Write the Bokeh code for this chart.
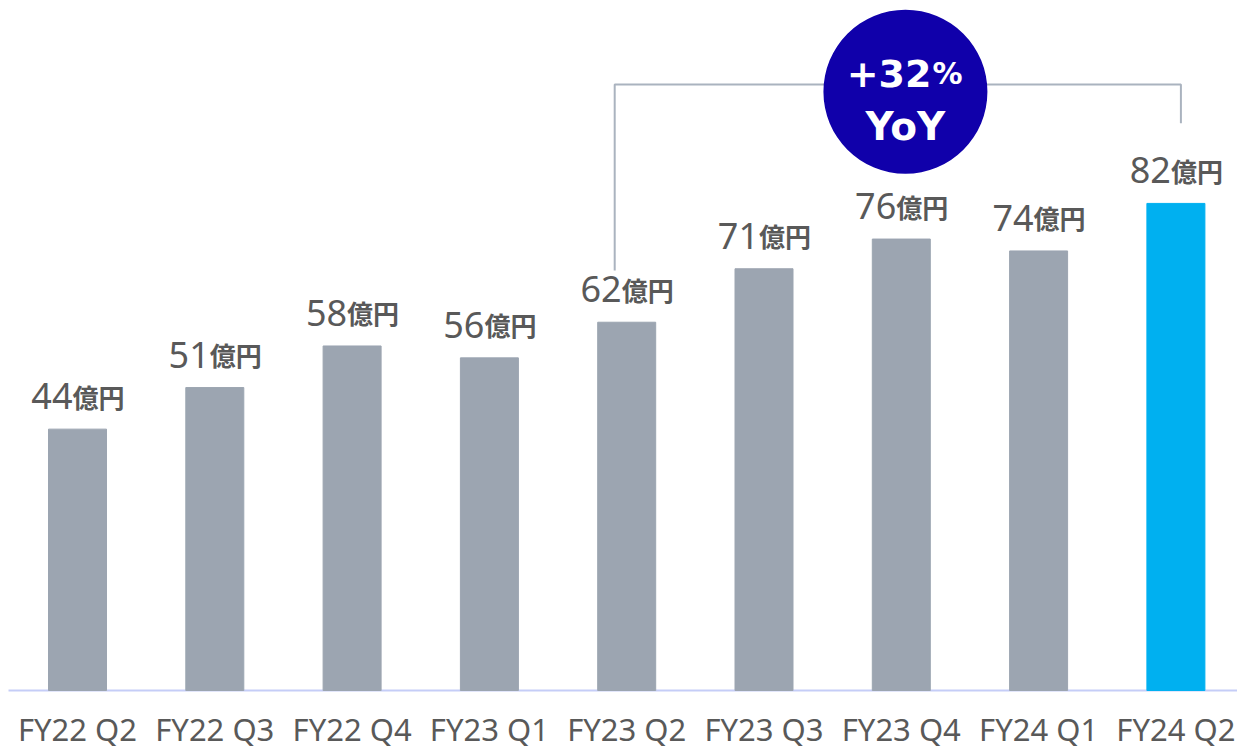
from bokeh.plotting import figure
from bokeh.models import Range1d, ColumnDataSource
from bokeh.core.properties import value
from bokeh.embed import file_html
from bokeh.resources import INLINE

categories = ["FY22 Q2", "FY22 Q3", "FY22 Q4", "FY23 Q1", "FY23 Q2",
              "FY23 Q3", "FY23 Q4", "FY24 Q1", "FY24 Q2"]
values = [44, 51, 58, 56, 62, 71, 76, 74, 82]
unit_label = "億円"
yoy_text = "+32"
yoy_pct = "%"
yoy_sub = "YoY"

GREY = "#9ca5b1"
HIGHLIGHT = "#00b0f0"
TEXT = "#595959"
BADGE = "#1000aa"
BRACKET = "#aab3bf"
BASELINE = "#c5cdf7"

xs = list(range(len(categories)))
colors = [GREY] * (len(values) - 1) + [HIGHLIGHT]

W, H = 1237, 752
PXU_X = 137.3          # pixels per category step
PXU_Y = 5.94           # pixels per value unit
X0 = -77 / PXU_X
X1 = X0 + W / PXU_X
Y1 = 690 / PXU_Y
Y0 = Y1 - H / PXU_Y
TB = 14                # text baseline compensation (px)


def dy(px):
    return px / PXU_Y


p = figure(width=W, height=H, output_backend="svg", toolbar_location=None,
           x_range=Range1d(X0, X1), y_range=Range1d(Y0, Y1),
           min_border=0, x_axis_type=None, y_axis_type=None)
p.outline_line_color = None
p.grid.visible = False
p.background_fill_color = "white"
p.border_fill_color = "white"

src = ColumnDataSource(dict(x=xs, top=values, color=colors,
                            num=[str(v) for v in values],
                            unit=[unit_label] * len(values),
                            cat=categories,
                            ly=[v + dy(19 + TB) for v in values],
                            cy=[-dy(52 - TB)] * len(values)))

# baseline
p.segment(x0=[X0 + 8 / PXU_X], y0=[0], x1=[X1], y1=[0],
          line_color=BASELINE, line_width=2)

p.vbar(x="x", top="top", bottom=0, width=58 / PXU_X, color="color", source=src)

# category labels
p.text(x="x", y="cy", text="cat", source=src, text_align="center",
       text_baseline="alphabetic", text_font=value("Noto Sans"),
       text_font_size="31px", text_color=TEXT)

# value labels
p.text(x="x", y="ly", text="num", source=src, x_offset=-5,
       text_align="right", text_baseline="alphabetic",
       text_font=value("Noto Sans"), text_font_size="36px", text_color=TEXT)
p.text(x="x", y="ly", text="unit", source=src, x_offset=-5,
       text_align="left", text_baseline="alphabetic",
       text_font=value("Noto Sans CJK JP"), text_font_style="bold",
       text_font_size="26px", text_color=TEXT)

# YoY bracket from FY23 Q2 to FY24 Q2
i0, i1 = 4, 8
bx0 = i0 - 12 / PXU_X
bx1 = i1 + 5 / PXU_X
b_top = 102.0
p.line([bx0, bx0, bx1, bx1],
       [values[i0] + 8.7, b_top, b_top, values[i1] + 13.5],
       line_color=BRACKET, line_width=2)

# badge
cx, cy = 6.03, 100.8
p.scatter([cx], [cy], size=164, marker="circle", fill_color=BADGE, line_color=None)
p.text([cx], [101.5 + dy(TB)], text=[yoy_text], x_offset=26, text_align="right",
       text_baseline="alphabetic", text_font=value("DejaVu Sans"),
       text_font_style="bold", text_font_size="38px", text_color="white")
p.text([cx], [101.5 + dy(TB)], text=[yoy_pct], x_offset=27, text_align="left",
       text_baseline="alphabetic", text_font=value("DejaVu Sans"),
       text_font_style="bold", text_font_size="30px", text_color="white")
p.text([cx], [92.6 + dy(TB)], text=[yoy_sub], text_align="center",
       text_baseline="alphabetic", text_font=value("DejaVu Sans"),
       text_font_style="bold", text_font_size="39px", text_color="white")

open("out.html", "w").write(file_html(p, INLINE))
